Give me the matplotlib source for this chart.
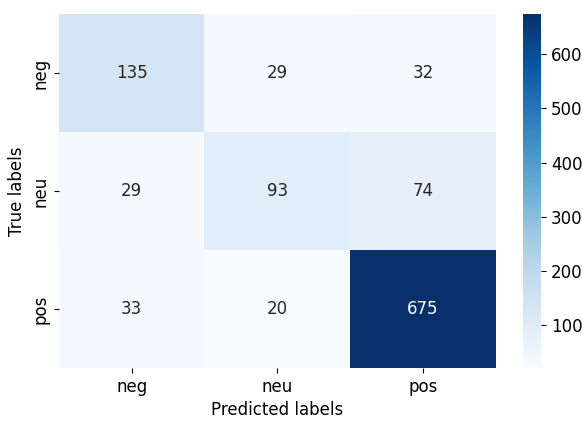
import matplotlib

matplotlib.use("Agg")

import matplotlib.pyplot as plt
import numpy as np
import seaborn as sns

LABELS = ["neg", "neu", "pos"]
ROW_NEG = [135, 29, 32]
ROW_NEU = [29, 93, 74]
ROW_POS = [33, 20, 675]


def main() -> None:
    matrix = np.array([ROW_NEG, ROW_NEU, ROW_POS])

    fig = plt.figure(figsize=(5.82, 4.21), dpi=100)
    ax = fig.add_axes([0.101, 0.126, 0.751, 0.841])
    cbar_ax = fig.add_axes([0.899, 0.126, 0.031, 0.841])

    sns.heatmap(
        matrix,
        annot=True,
        fmt="d",
        cmap="Blues",
        ax=ax,
        cbar_ax=cbar_ax,
        xticklabels=LABELS,
        yticklabels=LABELS,
        annot_kws={"fontsize": 12},
    )
    ax.set_xlabel("Predicted labels", fontsize=12)
    ax.set_ylabel("True labels", fontsize=12)
    ax.tick_params(labelsize=12)
    cbar_ax.tick_params(labelsize=12)
    cbar_ax.set_yticks([100, 200, 300, 400, 500, 600])

    fig.savefig("out.png", dpi=100)
    plt.close(fig)


if __name__ == "__main__":
    main()
